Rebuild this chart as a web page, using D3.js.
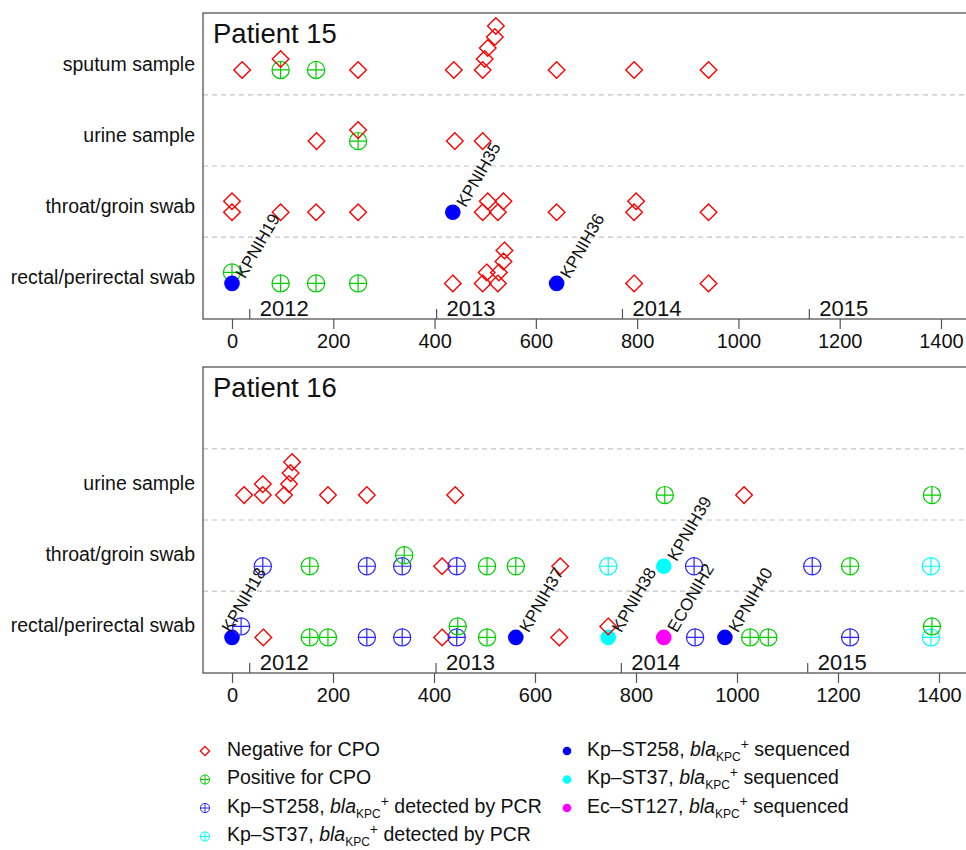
<!DOCTYPE html>
<html>
<head>
<meta charset="utf-8">
<script src="https://cdn.jsdelivr.net/npm/d3@7"></script>
<style>
  body { margin: 0; background: #fff; }
  text { font-family: "Liberation Sans", Arial, Helvetica, sans-serif; fill: #111; }
</style>
</head>
<body>
<svg id="chart" width="966" height="850"></svg>
<script>
// rows, bottom to top
const sampleRows15 = ["rectal/perirectal swab", "throat/groin swab", "urine sample", "sputum sample"];
const sampleRows16 = ["rectal/perirectal swab", "throat/groin swab", "urine sample"];
const dayTicks = [0, 200, 400, 600, 800, 1000, 1200, 1400];
const yearNames = ["2012", "2013", "2014", "2015"];
const yearStartDays = [35, 404, 771, 1140];

const resultTypes = ["neg", "pos", "pcr258", "pcr37", "seq258", "seq37", "seqEc"];
const resultColors = ["#ff0000", "#00cd00", "#2a22ff", "#00ffff", "#0000ff", "#00ffff", "#ff00ff"];

// [day, row, result, stack level, isolate name]
const patient15 = [
  [20, 3, "neg", 0], [96, 3, "pos", 0], [96, 3, "neg", 1], [166, 3, "pos", 0], [249, 3, "neg", 0],
  [438, 3, "neg", 0], [495, 3, "neg", 0], [499, 3, "neg", 1], [505, 3, "neg", 2], [519, 3, "neg", 3],
  [521, 3, "neg", 4], [641, 3, "neg", 0], [794, 3, "neg", 0], [941, 3, "neg", 0],

  [167, 2, "neg", 0], [249, 2, "pos", 0], [249, 2, "neg", 1], [440, 2, "neg", 0], [495, 2, "neg", 0],

  [0, 1, "neg", 0], [0, 1, "neg", 1], [96, 1, "neg", 0], [166, 1, "neg", 0], [249, 1, "neg", 0],
  [436, 1, "seq258", 0, "KPNIH35"], [495, 1, "neg", 0], [505, 1, "neg", 1], [525, 1, "neg", 0],
  [536, 1, "neg", 1], [641, 1, "neg", 0], [794, 1, "neg", 0], [798, 1, "neg", 1], [941, 1, "neg", 0],

  [0, 0, "pos", 1], [0, 0, "seq258", 0, "KPNIH19"], [96, 0, "pos", 0], [166, 0, "pos", 0], [249, 0, "pos", 0],
  [436, 0, "neg", 0], [495, 0, "neg", 0], [503, 0, "neg", 1], [525, 0, "neg", 0], [527, 0, "neg", 1],
  [536, 0, "neg", 2], [538, 0, "neg", 3], [641, 0, "seq258", 0, "KPNIH36"], [794, 0, "neg", 0], [941, 0, "neg", 0]
];

const patient16 = [
  [24, 2, "neg", 0], [61, 2, "neg", 0], [61, 2, "neg", 1], [103, 2, "neg", 0], [113, 2, "neg", 1],
  [116, 2, "neg", 2], [119, 2, "neg", 3], [190, 2, "neg", 0], [267, 2, "neg", 0], [442, 2, "neg", 0],
  [857, 2, "pos", 0], [1014, 2, "neg", 0], [1386, 2, "pos", 0],

  [61, 1, "pcr258", 0], [154, 1, "pos", 0], [267, 1, "pcr258", 0], [337, 1, "pcr258", 0], [341, 1, "pos", 1],
  [416, 1, "neg", 0], [445, 1, "pcr258", 0], [505, 1, "pos", 0], [562, 1, "pos", 0], [650, 1, "neg", 0],
  [745, 1, "pcr37", 0], [855, 1, "seq37", 0, "KPNIH39"], [915, 1, "pcr258", 0], [1149, 1, "pcr258", 0],
  [1224, 1, "pos", 0], [1384, 1, "pcr37", 0],

  [0, 0, "seq258", 0, "KPNIH18"], [18, 0, "pcr258", 1], [62, 0, "neg", 0], [154, 0, "pos", 0], [190, 0, "pos", 0],
  [267, 0, "pcr258", 0], [337, 0, "pcr258", 0], [416, 0, "neg", 0], [445, 0, "pcr258", 0], [447, 0, "pos", 1],
  [505, 0, "pos", 0], [562, 0, "seq258", 0, "KPNIH37"], [648, 0, "neg", 0], [745, 0, "seq37", 0, "KPNIH38"],
  [745, 0, "neg", 1], [855, 0, "seqEc", 0, "ECONIH2"], [917, 0, "pcr258", 0], [976, 0, "seq258", 0, "KPNIH40"],
  [1026, 0, "pos", 0], [1062, 0, "pos", 0], [1224, 0, "pcr258", 0], [1384, 0, "pcr37", 0], [1386, 0, "pos", 1]
];

// label sits left of its point where the neighbour crowds it
const labelNudge = { KPNIH18: -14 };

const legendLeft = [
  { type: "neg", label: "Negative for CPO" },
  { type: "pos", label: "Positive for CPO" },
  { type: "pcr258", strain: "Kp–ST258, ", tail: " detected by PCR" },
  { type: "pcr37", strain: "Kp–ST37, ", tail: " detected by PCR" }
];
const legendRight = [
  { type: "seq258", strain: "Kp–ST258, ", tail: " sequenced" },
  { type: "seq37", strain: "Kp–ST37, ", tail: " sequenced" },
  { type: "seqEc", strain: "Ec–ST127, ", tail: " sequenced" }
];

const svg = d3.select("#chart");
const color = d3.scaleOrdinal().domain(resultTypes).range(resultColors);
const stackGap = 11;

function drawMarker(g, type, x, y, big) {
  const c = color(type);
  if (type === "neg") {
    const h = big ? 8.3 : 4.6;
    g.append("path")
      .attr("d", `M${x},${y - h}L${x + h},${y}L${x},${y + h}L${x - h},${y}Z`)
      .attr("fill", "none").attr("stroke", c).attr("stroke-width", big ? 1.4 : 1.3);
  } else if (type.startsWith("seq")) {
    g.append("circle").attr("cx", x).attr("cy", y).attr("r", (big ? 7.8 : 4.3))
      .attr("fill", c);
  } else {
    const r = big ? 8.6 : 4.6;
    const sw = big ? 1.2 : 1;
    g.append("circle").attr("cx", x).attr("cy", y).attr("r", r)
      .attr("fill", "none").attr("stroke", c).attr("stroke-width", sw);
    g.append("path")
      .attr("d", `M${x - r},${y}H${x + r}M${x},${y - r}V${y + r}`)
      .attr("stroke", c).attr("stroke-width", sw);
  }
}

function drawPanel(opts) {
  const { title, rows, points, top, bottom, x0, x1400, labelShift } = opts;
  const left = 203, right = 972;
  const x = d3.scaleLinear().domain([0, 1400]).range([x0, x1400]);
  const xDom = [x.invert(left), x.invert(right)];
  x.domain(xDom).range([left, right]);
  const y = d3.scaleLinear().domain([-0.5, 3.8]).range([bottom, top]);

  const g = svg.append("g");

  // separators
  [0.65, 1.65, 2.65].forEach(v => {
    g.append("line")
      .attr("x1", left).attr("x2", right)
      .attr("y1", y(v)).attr("y2", y(v))
      .attr("stroke", "#c4c4c4").attr("stroke-width", 1.1)
      .attr("stroke-dasharray", "5,4");
  });

  // frame
  g.append("rect")
    .attr("x", left).attr("y", top)
    .attr("width", right - left).attr("height", bottom - top)
    .attr("fill", "none").attr("stroke", "#555").attr("stroke-width", 1.3);

  // day axis
  const axis = g.append("g")
    .attr("transform", `translate(0,${bottom})`)
    .call(d3.axisBottom(x).tickValues(dayTicks).tickSize(10).tickPadding(5).tickFormat(d3.format("d")));
  axis.select(".domain").remove();
  axis.selectAll(".tick line").attr("stroke", "#555").attr("stroke-width", 1.2);
  axis.selectAll(".tick text").attr("font-size", 20).attr("fill", "#111")
    .style("font-family", '"Liberation Sans", Arial, sans-serif');

  // year ticks
  yearStartDays.forEach((d, i) => {
    g.append("line")
      .attr("x1", x(d)).attr("x2", x(d))
      .attr("y1", bottom).attr("y2", bottom - 10)
      .attr("stroke", "#555").attr("stroke-width", 1.2);
    g.append("text")
      .attr("x", x(d) + 10).attr("y", bottom - 3)
      .attr("font-size", 22)
      .text(yearNames[i]);
  });

  // row labels
  rows.forEach((name, i) => {
    g.append("text")
      .attr("x", 195).attr("y", y(i) + labelShift)
      .attr("dy", "0.35em")
      .attr("text-anchor", "end")
      .attr("font-size", 19.5)
      .text(name);
  });

  g.append("text")
    .attr("x", 213).attr("y", top + 30)
    .attr("font-size", 27.5)
    .text(title);

  const mg = g.append("g");
  points.forEach(p => {
    const px = x(p[0]);
    const py = y(p[1]) - p[3] * stackGap;
    drawMarker(mg, p[2], px, py, true);
  });

  points.filter(p => p[4]).forEach(p => {
    const px = x(p[0]) + (labelNudge[p[4]] || 0);
    const py = y(p[1]) - p[3] * stackGap;
    g.append("text")
      .attr("transform", `translate(${px + 13},${py - 4}) rotate(-60)`)
      .attr("font-size", 17)
      .text(p[4]);
  });
}

drawPanel({ title: "Patient 15", rows: sampleRows15, points: patient15, top: 13, bottom: 319, x0: 232, x1400: 941, labelShift: -6 });
drawPanel({ title: "Patient 16", rows: sampleRows16, points: patient16, top: 367, bottom: 673, x0: 232, x1400: 939, labelShift: -12 });

// legend
function legendColumn(items, mx, tx, y0, step) {
  items.forEach((it, i) => {
    const cy = y0 + i * step;
    drawMarker(svg, it.type, mx, cy + 2, false);
    const t = svg.append("text")
      .attr("x", tx).attr("y", cy).attr("dy", "0.35em")
      .attr("font-size", 19.5);
    if (it.label) {
      t.text(it.label);
    } else {
      t.append("tspan").text(it.strain);
      t.append("tspan").attr("font-style", "italic").text("bla");
      t.append("tspan").attr("font-size", 12).attr("dy", 5).text("KPC");
      t.append("tspan").attr("font-size", 14).attr("dy", -12).text("+");
      t.append("tspan").attr("dy", 7).text(it.tail);
    }
  });
}
legendColumn(legendLeft, 205, 227, 749, 28.5);
legendColumn(legendRight, 567, 587, 749, 28.5);
</script>
</body>
</html>
